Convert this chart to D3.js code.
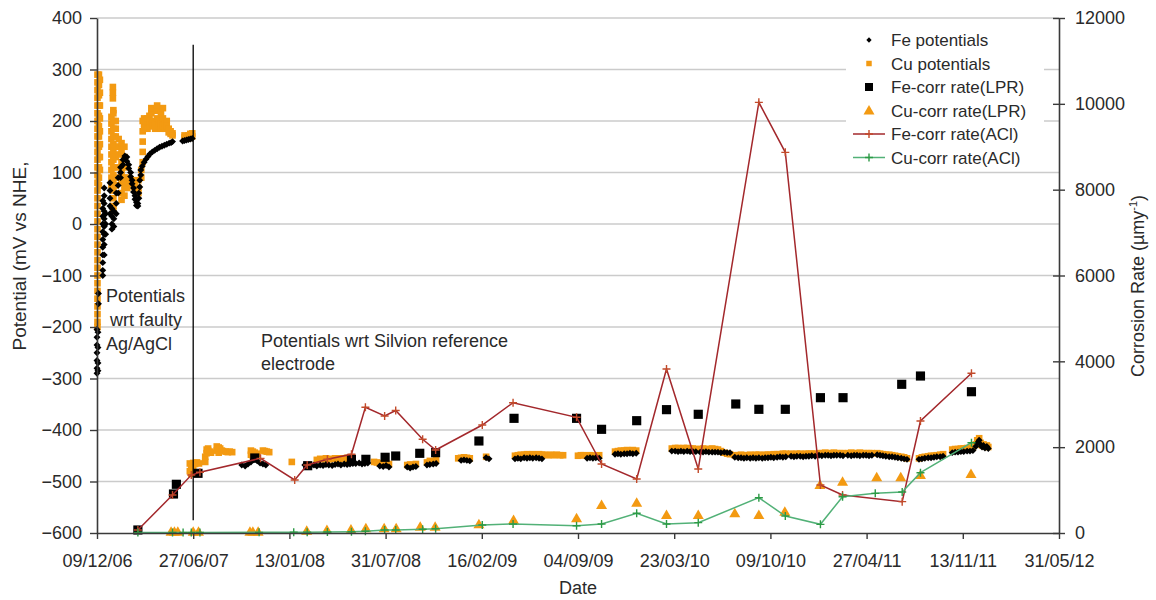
<!DOCTYPE html>
<html><head><meta charset="utf-8">
<script src="https://cdn.jsdelivr.net/npm/d3@7"></script>
<style>
body{margin:0;background:#fff}
text{font-family:"Liberation Sans",Arial,sans-serif;fill:#2a2a2a}
</style></head>
<body><svg id="c" width="1156" height="600"></svg>
<script>
// ---------------- DATA ----------------
const xStart = "2006-12-09", xEnd = "2012-05-31";
const xTickDates = ["2006-12-09","2007-06-27","2008-01-13","2008-07-31","2009-02-16","2009-09-04","2010-03-23","2010-10-09","2011-04-27","2011-11-13","2012-05-31"];
const xTickLabels = ["09/12/06","27/06/07","13/01/08","31/07/08","16/02/09","04/09/09","23/03/10","09/10/10","27/04/11","13/11/11","31/05/12"];
const leftTicks = [400,300,200,100,0,-100,-200,-300,-400,-500,-600];
const rightTicks = [12000,10000,8000,6000,4000,2000,0];

// Cu potentials (mV vs NHE): readings per date
const cuPotDates = [
"2006-12-10","2006-12-13","2006-12-15",
"2007-01-08","2007-01-11","2007-01-12","2007-01-17","2007-01-23","2007-01-29","2007-02-04","2007-02-10","2007-02-15","2007-02-20","2007-02-25","2007-03-01","2007-03-05","2007-03-11","2007-03-14","2007-03-17","2007-03-20","2007-03-24","2007-03-28","2007-04-01","2007-04-05","2007-04-09","2007-04-13","2007-04-17","2007-04-21","2007-04-25","2007-04-29","2007-05-03","2007-05-07","2007-05-11","2007-05-15",
"2007-06-09","2007-06-13","2007-06-17","2007-06-21","2007-06-25",
"2007-06-20","2007-06-23","2007-06-27","2007-07-01","2007-07-05","2007-07-09","2007-07-22","2007-07-25","2007-07-28","2007-08-01","2007-08-03","2007-08-15","2007-08-19","2007-08-22","2007-08-25","2007-08-28","2007-09-03","2007-09-07","2007-09-11","2007-09-16","2007-10-25","2007-10-29","2007-11-02","2007-11-07","2007-11-19","2007-11-23","2007-11-27","2007-12-02",
"2008-01-18","2008-03-10","2008-03-17","2008-03-23","2008-03-29","2008-04-04","2008-04-11","2008-04-17","2008-04-23","2008-04-29","2008-05-06","2008-05-12","2008-05-18",
"2008-07-07","2008-07-13","2008-07-19","2008-07-26","2008-08-01","2008-08-07","2008-09-14","2008-09-20","2008-09-26","2008-10-02","2008-10-25","2008-10-31","2008-11-07","2008-11-13","2008-12-29",
"2009-01-04","2009-01-10","2009-01-16","2009-01-22","2009-02-25","2009-04-26","2009-05-02","2009-05-08","2009-05-15","2009-05-21","2009-05-27","2009-06-02","2009-06-09","2009-06-15","2009-06-21","2009-06-27","2009-07-04","2009-07-10","2009-07-16","2009-07-22","2009-07-29","2009-08-04","2009-09-04","2009-09-10","2009-09-16","2009-09-23","2009-09-29","2009-10-05","2009-10-11","2009-10-18","2009-11-20","2009-11-26","2009-12-02","2009-12-09","2009-12-15","2009-12-21","2009-12-27",
"2010-01-03","2010-03-18","2010-03-25","2010-03-31","2010-04-06","2010-04-12","2010-04-19","2010-04-25","2010-05-01","2010-05-07","2010-05-16","2010-05-22","2010-05-28","2010-06-03","2010-06-10","2010-06-16","2010-06-22","2010-06-28","2010-07-05","2010-07-11","2010-07-17","2010-07-27","2010-08-03","2010-08-09","2010-08-15","2010-08-21","2010-08-28","2010-09-03","2010-09-09","2010-09-15","2010-09-22","2010-09-28","2010-10-04","2010-10-10","2010-10-16","2010-10-23","2010-10-29","2010-11-04","2010-11-10","2010-11-21","2010-11-27","2010-12-03","2010-12-10","2010-12-16","2010-12-22","2010-12-28",
"2011-01-03","2011-01-10","2011-01-18","2011-01-24","2011-01-31","2011-02-06","2011-02-12","2011-02-18","2011-02-24","2011-03-03","2011-03-09","2011-03-19","2011-03-26","2011-04-01","2011-04-07","2011-04-13","2011-04-20","2011-04-26","2011-05-02","2011-05-08","2011-05-19","2011-05-25","2011-05-31","2011-06-06","2011-06-13","2011-06-19","2011-06-25","2011-07-01","2011-07-08","2011-07-14","2011-07-20","2011-08-14","2011-08-20","2011-08-26","2011-09-02","2011-09-08","2011-09-14","2011-09-20","2011-09-27","2011-10-03","2011-10-22","2011-10-28","2011-11-03","2011-11-09","2011-11-15","2011-11-22","2011-11-28","2011-12-04","2011-12-10","2011-12-13","2011-12-17","2011-12-20","2011-12-23","2011-12-26","2011-12-29","2012-01-02","2012-01-05"];
const cuPotValues = [
[290,275,260,245,230,215,200,185,170,155,140,125,110,95,80,65,50,35,20,5,-10,-25,-40,-55,-70,-85,-100,-115,-130,-145,-160,-175,-190,-200],
[290,270,250,230,210,190,170,150,130,110,90,75],[280,255,230,205,180,155,130,105],
[208,195,180,165,150,135,120,105,90,75],[266,255,244],[221,215,200,185,170,155,140,125,110,95,80,65,50,35,25],[200,185,170,150,130,110,90,75],[165,150,135],[157,140,120,100,80,60,47],[150,130,110,90,70,55],[90,80,70],[85,80],[85,78],[80,72],[70,62],[60,70,85],[90,105],[120,140,160,180,200],[205,195,185],[190,200],[185,205],[190,210,200],[195,215,225],[200,190],[185,195],[205,220,230],[200,190],[185,195,215],[225,205,190],[185,195],[200,190],[185,178],[180,175],[176,172],
[172,168],[170,166],[172,167],[175,168],[176,170],
[-465,-480],[-468,-485],[-464,-478],[-466],[-463],[-465],[-462,-452],[-445,-438],[-436,-440],[-442],[-444],[-432,-440],[-434,-444],[-436],[-440],[-441],[-442],[-443],[-442],[-443],[-440,-448],[-442,-450],[-444],[-446],[-440],[-441],[-442],[-443],
[-462],[-458],[-456],[-457],[-455],[-457],[-456],[-455],[-457],[-455],[-456],[-454],[-455],
[-462],[-463],[-465],[-465],[-466],[-466],[-468],[-467],[-468],[-466],[-463],[-460],[-461],[-458],[-455],
[-454],[-453],[-454],[-455],[-452],[-450],[-449],[-448],[-448],[-447],[-448],[-447],[-448],[-447],[-448],[-448],[-449],[-448],[-449],[-448],[-449],[-449],[-450],[-449],[-449],[-450],[-449],[-450],[-450],[-449],[-442],[-441],[-440],[-440],[-439],[-440],[-439],
[-440],[-436],[-435],[-435],[-436],[-435],[-435],[-436],[-436],[-437],[-437],[-436],[-437],[-437],[-436],[-437],[-438],[-441],[-444],[-446],[-447],[-449],[-449],[-448],[-449],[-449],[-448],[-449],[-448],[-448],[-449],[-448],[-448],[-448],[-447],[-447],[-447],[-446],[-446],[-446],[-447],[-446],[-446],[-447],[-446],[-446],
[-446],[-446],[-445],[-445],[-444],[-445],[-445],[-444],[-445],[-445],[-445],[-445],[-444],[-445],[-445],[-444],[-445],[-445],[-445],[-445],[-445],[-446],[-447],[-448],[-448],[-449],[-450],[-451],[-452],[-453],[-455],[-455],[-453],[-452],[-451],[-450],[-450],[-449],[-448],[-447],[-438],[-437],[-437],[-436],[-436],[-435],[-435],[-434],[-428],[-420],[-416],[-425],[-430],[-428],[-432],[-430],[-433]];

// Fe potentials (mV vs NHE): readings per date
const fePotDates = [
"2006-12-09","2006-12-11","2006-12-12","2006-12-21","2006-12-24","2006-12-27",
"2007-01-05","2007-01-09","2007-01-13","2007-01-18","2007-01-22","2007-01-27","2007-02-01","2007-02-05","2007-02-09","2007-02-13","2007-02-17","2007-02-20","2007-02-23","2007-02-26","2007-03-01","2007-03-04","2007-03-06","2007-03-08","2007-03-10","2007-03-13","2007-03-17","2007-03-21","2007-03-25","2007-03-29","2007-04-03","2007-04-08","2007-04-13","2007-04-18","2007-04-23","2007-04-28","2007-05-03","2007-05-08","2007-05-12","2007-05-15",
"2007-06-05","2007-06-09","2007-06-13","2007-06-17","2007-06-21","2007-06-25",
"2007-10-06","2007-10-13","2007-10-19","2007-10-25","2007-10-31","2007-11-07","2007-11-13","2007-11-19","2007-11-25",
"2008-02-14","2008-02-21","2008-02-27","2008-03-04","2008-03-10","2008-03-17","2008-03-23","2008-03-29","2008-04-04","2008-04-11","2008-04-17","2008-04-23","2008-04-29","2008-05-06","2008-05-12","2008-05-18","2008-05-24","2008-05-30","2008-06-06","2008-06-12","2008-06-18","2008-06-24",
"2008-07-19","2008-07-26","2008-08-01","2008-08-07","2008-09-14","2008-09-20","2008-09-26","2008-10-02","2008-10-25","2008-10-31","2008-11-07","2008-11-13",
"2009-01-04","2009-01-10","2009-01-16","2009-01-22","2009-02-25","2009-03-03","2009-04-26","2009-05-02","2009-05-08","2009-05-15","2009-05-21","2009-05-27","2009-06-02","2009-06-09","2009-06-15","2009-06-21","2009-09-23","2009-09-29","2009-10-05","2009-10-11","2009-10-18","2009-11-20","2009-11-26","2009-12-02","2009-12-09","2009-12-15","2009-12-21","2009-12-27",
"2010-01-03","2010-03-18","2010-03-25","2010-03-31","2010-04-06","2010-04-12","2010-04-19","2010-04-25","2010-05-01","2010-05-07","2010-05-16","2010-05-22","2010-05-28","2010-06-03","2010-06-10","2010-06-16","2010-06-22","2010-06-28","2010-07-05","2010-07-11","2010-07-17","2010-07-27","2010-08-03","2010-08-09","2010-08-15","2010-08-21","2010-08-28","2010-09-03","2010-09-09","2010-09-15","2010-09-22","2010-09-28","2010-10-04","2010-10-10","2010-10-16","2010-10-23","2010-10-29","2010-11-04","2010-11-10","2010-11-21","2010-11-27","2010-12-03","2010-12-10","2010-12-16","2010-12-22","2010-12-28",
"2011-01-03","2011-01-10","2011-01-18","2011-01-24","2011-01-31","2011-02-06","2011-02-12","2011-02-18","2011-02-24","2011-03-03","2011-03-09","2011-03-19","2011-03-26","2011-04-01","2011-04-07","2011-04-13","2011-04-20","2011-04-26","2011-05-02","2011-05-08","2011-05-19","2011-05-25","2011-05-31","2011-06-06","2011-06-13","2011-06-19","2011-06-25","2011-07-01","2011-07-08","2011-07-14","2011-07-20","2011-08-14","2011-08-20","2011-08-26","2011-09-02","2011-09-08","2011-09-14","2011-09-20","2011-09-27","2011-10-03","2011-10-22","2011-10-28","2011-11-03","2011-11-09","2011-11-15","2011-11-22","2011-11-28","2011-12-04","2011-12-10","2011-12-13","2011-12-17","2011-12-20","2011-12-23","2011-12-26","2011-12-29","2012-01-02","2012-01-05"];
const fePotValues = [
[-205,-220,-235,-250,-265,-280,-290],[-210,-240,-270,-285],[-135,-155],[45,30,15,0,-15,-30,-45,-60,-75,-90,-100],[70,55,40,25,10,-5,-20,-40,-60],[20,0,-20],
[80,65,50,35,20],[30,15,0,-10],[-5,10,25],[20,40,60],[60,75,90],[90,100,110],[115,125],[128,132],[130,122],[115,108],[100,92],[85,78],[70,62],[55,48],[42,36],[35,40],[50,60],[72,85],[95,105],[112],[120],[126],[131],[136],[140],[143],[146],[149],[151],[153],[155],[157],[158],[160],
[161],[162],[163],[164],[165],[166],
[-468],[-470],[-466],[-462],[-458],[-460],[-464],[-466],[-468],
[-468],[-470],[-469],[-468],[-470],[-468],[-469],[-467],[-468],[-469],[-467],[-466],[-468],[-466],[-467],[-466],[-465],[-465],[-464],[-466],[-465],[-464],
[-470],[-471],[-469],[-472],[-472],[-474],[-472],[-471],[-468],[-467],[-466],[-465],
[-459],[-458],[-459],[-460],[-454],[-456],[-456],[-455],[-456],[-454],[-455],[-454],[-455],[-454],[-455],[-456],[-455],[-454],[-455],[-454],[-455],[-447],[-446],[-447],[-446],[-446],[-445],[-446],
[-445],[-441],[-441],[-442],[-441],[-442],[-441],[-442],[-442],[-442],[-443],[-443],[-442],[-443],[-443],[-443],[-443],[-444],[-443],[-444],[-444],[-453],[-454],[-454],[-455],[-454],[-455],[-454],[-455],[-454],[-455],[-454],[-454],[-453],[-454],[-453],[-452],[-453],[-452],[-451],[-452],[-451],[-451],[-452],[-451],[-451],
[-450],[-451],[-449],[-450],[-449],[-449],[-450],[-449],[-449],[-449],[-450],[-449],[-450],[-449],[-449],[-450],[-449],[-449],[-450],[-449],[-448],[-449],[-450],[-451],[-452],[-452],[-453],[-454],[-455],[-456],[-457],[-457],[-456],[-455],[-454],[-454],[-453],[-452],[-452],[-451],[-444],[-443],[-443],[-442],[-442],[-441],[-441],[-440],[-432],[-425],[-420],[-428],[-433],[-430],[-435],[-432],[-436]];

// Corrosion rates (µm/y)
const feLprDates = ["2007-03-04","2007-05-17","2007-05-23","2007-07-07","2007-11-02","2008-02-20","2008-05-21","2008-06-20","2008-07-30","2008-08-21","2008-10-10","2008-11-12","2009-02-10","2009-04-24","2009-09-01","2009-10-23","2010-01-04","2010-03-07","2010-05-12","2010-07-29","2010-09-15","2010-11-09","2011-01-21","2011-03-09","2011-07-09","2011-08-17","2011-12-01"];
const feLprValues = [70,909,1135,1391,1748,1568,1717,1717,1764,1794,1857,1872,2144,2672,2672,2416,2617,2874,2766,3006,2882,2882,3153,3153,3465,3658,3292];

const cuLprDates = ["2007-05-12","2007-05-19","2007-05-26","2007-06-27","2007-07-08","2007-10-23","2007-10-29","2007-11-09","2008-02-18","2008-03-31","2008-05-20","2008-06-20","2008-07-28","2008-08-22","2008-10-11","2008-11-11","2009-02-10","2009-04-23","2009-09-01","2009-10-23","2010-01-04","2010-03-07","2010-05-12","2010-07-27","2010-09-15","2010-11-08","2011-01-20","2011-03-08","2011-05-18","2011-07-07","2011-08-17","2011-11-30"];
const cuLprValues = [30,30,30,30,30,30,30,30,50,70,80,110,110,110,147,147,203,303,342,652,706,419,419,459,419,496,1118,1195,1298,1298,1351,1375];

const feAclDates = ["2007-03-04","2007-05-15","2007-06-23","2007-07-11","2007-11-14","2008-01-24","2008-02-19","2008-04-01","2008-05-21","2008-06-19","2008-07-29","2008-08-21","2008-10-16","2008-11-12","2009-02-17","2009-04-22","2009-09-01","2009-10-23","2010-01-04","2010-03-07","2010-05-12","2010-09-15","2010-11-09","2011-01-21","2011-03-08","2011-07-10","2011-08-17","2011-12-01"];
const feAclValues = [70,885,1350,1414,1740,1235,1584,1717,1834,2929,2726,2854,2183,1934,2516,3036,2696,1608,1258,3821,1491,10035,8870,1118,885,730,2610,3721];

const cuAclDates = ["2007-03-04","2007-05-15","2007-06-06","2007-06-23","2007-07-11","2007-11-11","2008-01-22","2008-02-19","2008-04-01","2008-05-21","2008-06-19","2008-07-29","2008-08-21","2008-10-16","2008-11-12","2009-02-17","2009-04-22","2009-09-01","2009-10-23","2010-01-04","2010-03-07","2010-05-12","2010-09-15","2010-11-09","2011-01-21","2011-03-08","2011-05-15","2011-07-10","2011-08-17","2011-12-01"];
const cuAclValues = [10,10,10,10,10,15,20,20,25,30,40,70,70,86,100,186,210,170,210,459,210,241,823,396,202,846,924,955,1405,2104];

const legendLabels = ["Fe potentials","Cu potentials","Fe-corr rate(LPR)","Cu-corr rate(LPR)","Fe-corr rate(ACl)","Cu-corr rate(ACl)"];
const refChangeDate = "2007-06-27";
const refLineSpan = [348, -575];

// ---------------- DRAW ----------------
const P = d3.utcParse("%Y-%m-%d");
const svg = d3.select("#c");
const X0 = 97, X1 = 1059, YT = 18, YB = 533;
const x = d3.scaleUtc().domain([P(xStart), P(xEnd)]).range([X0, X1]);
const yL = d3.scaleLinear().domain([-600, 400]).range([YB, YT]);
const yR = d3.scaleLinear().domain([0, 12000]).range([YB, YT]);

const ORANGE = "#F39A12", FERED = "#A3282C", FEPLUS = "#C24A2A", GREEN = "#52B177", GPLUS = "#2C9A45";

// grid
svg.append("g").selectAll("line").data(leftTicks.filter(t => t !== -600)).join("line")
  .attr("x1", X0).attr("x2", X1).attr("y1", d => yL(d)).attr("y2", d => yL(d))
  .attr("stroke", "#cbcbcb").attr("stroke-width", 1.4);

const diamondPath = d3.symbol(d3.symbolSquare, 24)();
const sqSmall = d3.symbol(d3.symbolSquare, 44)();
const sqBig = d3.symbol(d3.symbolSquare, 84)();
const triPath = "M0,-5.5L5.5,4L-5.5,4Z";
const plusPath = "M-4,0H4M0,-4V4";

const cuPts = cuPotDates.flatMap((d, i) => cuPotValues[i].map(v => ({d: P(d), v})));
const fePts = fePotDates.flatMap((d, i) => fePotValues[i].map(v => ({d: P(d), v})));

svg.append("g").selectAll("path").data(cuPts).join("path")
  .attr("d", sqSmall).attr("fill", ORANGE)
  .attr("transform", p => `translate(${x(p.d)},${yL(p.v)})`);
svg.append("g").selectAll("path").data(fePts).join("path")
  .attr("d", diamondPath).attr("fill", "#000")
  .attr("transform", p => `translate(${x(p.d)},${yL(p.v)}) rotate(45)`);

// reference change line
svg.append("line")
  .attr("x1", x(P(refChangeDate))).attr("x2", x(P(refChangeDate)))
  .attr("y1", yL(refLineSpan[0])).attr("y2", yL(refLineSpan[1]))
  .attr("stroke", "#000").attr("stroke-width", 1.3);

// LPR
svg.append("g").selectAll("path").data(feLprDates).join("path")
  .attr("d", sqBig).attr("fill", "#000")
  .attr("transform", (d, i) => `translate(${x(P(d))},${yR(feLprValues[i])})`);
svg.append("g").selectAll("path").data(cuLprDates).join("path")
  .attr("d", triPath).attr("fill", ORANGE)
  .attr("transform", (d, i) => `translate(${x(P(d))},${yR(cuLprValues[i])})`);

// ACl lines
function aclSeries(dates, vals, lineCol, plusCol) {
  const pts = dates.map((d, i) => [x(P(d)), yR(vals[i])]);
  svg.append("path").attr("d", d3.line()(pts)).attr("fill", "none")
    .attr("stroke", lineCol).attr("stroke-width", 1.5);
  svg.append("g").selectAll("path").data(pts).join("path")
    .attr("d", plusPath).attr("stroke", plusCol).attr("stroke-width", 1.4).attr("fill", "none")
    .attr("transform", p => `translate(${p[0]},${p[1]})`);
}
aclSeries(feAclDates, feAclValues, FERED, FEPLUS);
aclSeries(cuAclDates, cuAclValues, GREEN, GPLUS);

// axes
const axisCol = "#3a3a3a";
const gl = svg.append("g").attr("transform", `translate(${X0},0)`)
  .call(d3.axisLeft(yL).tickValues(leftTicks).tickSize(7).tickSizeOuter(0).tickPadding(8));
const gb = svg.append("g").attr("transform", `translate(0,${YB})`)
  .call(d3.axisBottom(x).tickValues(xTickDates.map(P)).tickFormat((d, i) => xTickLabels[i]).tickSize(6).tickSizeOuter(0).tickPadding(15));
const gr = svg.append("g").attr("transform", `translate(${X1},0)`)
  .call(d3.axisRight(yR).tickValues(rightTicks).tickFormat(d3.format("d")).tickSize(6).tickSizeOuter(0).tickPadding(10));
gr.selectAll(".tick line").attr("x1", -6);
[gl, gb, gr].forEach(g => {
  g.selectAll(".domain").attr("stroke", axisCol).attr("stroke-width", 1.6);
  g.selectAll(".tick line").attr("stroke", axisCol).attr("stroke-width", 1.4);
  g.selectAll("text").style("font-family", '"Liberation Sans",Arial,sans-serif')
    .style("font-size", "18px").attr("fill", "#2a2a2a");
});

// axis titles
svg.append("text").attr("transform", "translate(26,256) rotate(-90)")
  .attr("text-anchor", "middle").style("font-size", "19px").text("Potential (mV vs NHE,");
const rt = svg.append("text").attr("transform", "translate(1144,286) rotate(-90)")
  .attr("text-anchor", "middle").style("font-size", "18px");
rt.append("tspan").text("Corrosion Rate (µmy");
rt.append("tspan").attr("dy", -7).style("font-size", "11px").text("-1");
rt.append("tspan").attr("dy", 7).text(")");
svg.append("text").attr("x", 578).attr("y", 594).attr("text-anchor", "middle")
  .style("font-size", "18px").text("Date");

// annotations
const ann = [["Potentials", 106, 302], ["wrt faulty", 110, 326], ["Ag/AgCl", 106, 350],
             ["Potentials wrt Silvion reference", 261, 347], ["electrode", 261, 370]];
svg.append("g").selectAll("text").data(ann).join("text")
  .attr("x", d => d[1]).attr("y", d => d[2]).style("font-size", "18px").text(d => d[0]);

// legend
const lg = svg.append("g");
lg.append("rect").attr("x", 846).attr("y", 24).attr("width", 198).attr("height", 146).attr("fill", "#fff");
const ly = [40, 63.5, 87, 110.5, 134, 157.5];
const lx = 869;
lg.append("path").attr("d", d3.symbol(d3.symbolSquare, 14)()).attr("fill", "#000")
  .attr("transform", `translate(${lx},${ly[0]}) rotate(45)`);
lg.append("path").attr("d", d3.symbol(d3.symbolSquare, 30)()).attr("fill", ORANGE)
  .attr("transform", `translate(${lx},${ly[1]})`);
lg.append("path").attr("d", d3.symbol(d3.symbolSquare, 64)()).attr("fill", "#000")
  .attr("transform", `translate(${lx},${ly[2]})`);
lg.append("path").attr("d", triPath).attr("fill", ORANGE).attr("transform", `translate(${lx},${ly[3]})`);
[[ly[4], FERED, FEPLUS], [ly[5], GREEN, GPLUS]].forEach(([yy, c, pc]) => {
  lg.append("line").attr("x1", 853).attr("x2", 885).attr("y1", yy).attr("y2", yy).attr("stroke", c).attr("stroke-width", 1.5);
  lg.append("path").attr("d", plusPath).attr("stroke", pc).attr("stroke-width", 1.4).attr("transform", `translate(${lx},${yy})`);
});
lg.selectAll("text.l").data(legendLabels).join("text").attr("class", "l")
  .attr("x", 891).attr("y", (d, i) => ly[i] + 6).style("font-size", "17px").text(d => d);
</script></body></html>
